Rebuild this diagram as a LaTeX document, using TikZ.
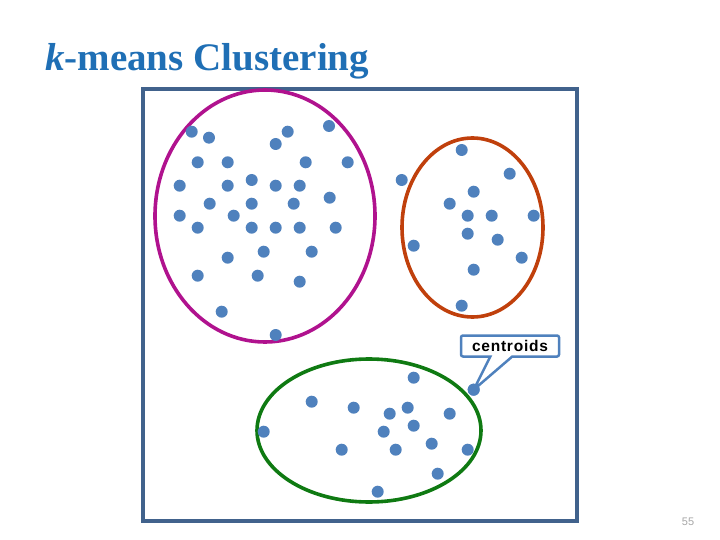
\documentclass[tikz,border=0pt]{standalone}
\usepackage{fontspec}
\setmainfont{Liberation Serif}
\newfontfamily\arialf{Liberation Sans}
\usetikzlibrary{shapes.callouts,shapes.geometric}
\definecolor{framec}{HTML}{41628C}
\definecolor{dotc}{HTML}{4F81BD}
\definecolor{magc}{HTML}{B0128E}
\definecolor{orgc}{HTML}{C0400C}
\definecolor{grnc}{HTML}{0F7A12}
\definecolor{titlec}{HTML}{1F6FB5}
\begin{document}
\begin{tikzpicture}[x=1pt,y=-1pt,
  pt/.style={circle,fill=dotc,inner sep=0pt,minimum size=12pt},
  clus/.style={line width=3.6pt},
]
\useasboundingbox (0,0) rectangle (720,540);
% title
\node[anchor=base west,inner sep=0pt,text=titlec,font=\fontsize{39}{44}\selectfont\bfseries] (title) at (45,71) {\textit{k}-means Clustering};
% frame
\node[draw=framec,line width=4pt,minimum width=434pt,minimum height=432pt,inner sep=0pt] (frame) at (360,305) {};
% clusters
\node[clus,draw=magc,ellipse,minimum width=220pt,minimum height=252pt,inner sep=0pt] (e1) at (265,216) {};
\node[clus,draw=orgc,ellipse,minimum width=141pt,minimum height=179pt,inner sep=0pt] (e2) at (472.5,227.5) {};
\node[clus,draw=grnc,ellipse,minimum width=224pt,minimum height=143pt,inner sep=0pt] (e3) at (369,430.5) {};
% cluster 1 points
\foreach \x/\y [count=\i] in {191.7/131.7,209/137.7,287.7/131.7,329/126,275.7/144,197.7/162.3,227.7/162.3,305.7/162.3,347.7/162.3,179.7/185.7,227.7/185.7,251.7/180,275.7/185.7,299.7/185.7,329.7/197.7,209.7/203.7,251.7/203.7,293.7/203.7,179.7/215.7,233.7/215.7,197.7/227.7,251.7/227.7,275.7/227.7,299.7/227.7,335.7/227.7,263.7/251.7,311.7/251.7,227.7/257.7,197.7/275.7,257.7/275.7,299.7/281.7,221.7/311.7,275.7/335}
  \node[pt] (a\i) at (\x,\y) {};
% cluster 2 points
\foreach \x/\y [count=\i] in {461.7/150,401.7/180,509.7/173.7,473.7/191.7,449.7/203.7,467.7/215.7,491.7/215.7,533.7/215.7,467.7/233.7,497.7/239.7,413.7/245.7,521.7/257.7,473.7/269.7,461.7/305.7}
  \node[pt] (b\i) at (\x,\y) {};
% cluster 3 points
\foreach \x/\y [count=\i] in {413.7/377.7,473.7/389.7,311.7/401.7,353.7/407.7,389.7/413.7,407.7/407.7,449.7/413.7,263.7/431.7,383.7/431.7,413.7/425.7,341.7/449.7,395.7/449.7,431.7/443.7,467.7/449.7,437.7/473.7,377.7/491.7}
  \node[pt] (c\i) at (\x,\y) {};
% callout
\node[rectangle callout,draw=dotc,fill=white,line width=2.5pt,rounded corners=2pt,
  minimum width=98pt,minimum height=21pt,inner sep=0pt,
  callout absolute pointer={(c2.center)},callout pointer width=22pt,
  font=\arialf\bfseries\fontsize{15.5}{18}\selectfont\addfontfeature{LetterSpace=5}] (lab) at (510,346) {centroids};
\node[pt] at (c2) {};
% page number
\node[text=gray!70,font=\arialf\fontsize{11}{13}\selectfont] (pg) at (688,522) {55};
\end{tikzpicture}
\end{document}
